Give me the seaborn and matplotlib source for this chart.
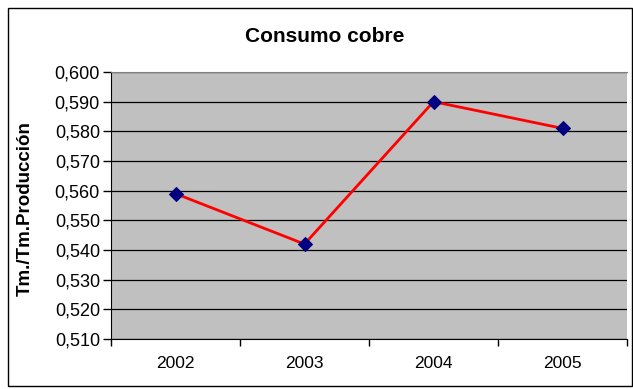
import matplotlib
matplotlib.use("Agg")
import matplotlib.pyplot as plt
import seaborn as sns
import pandas as pd
from matplotlib.ticker import FixedLocator, FuncFormatter
from matplotlib.patches import Rectangle

years = ["2002", "2003", "2004", "2005"]
consumo = [0.559, 0.542, 0.590, 0.581]
y_ticks = [0.51, 0.52, 0.53, 0.54, 0.55, 0.56, 0.57, 0.58, 0.59, 0.60]

df = pd.DataFrame({"year": years, "consumo": consumo})

sns.set_style("white", {"text.color": "black", "xtick.color": "black",
                        "ytick.color": "black", "axes.labelcolor": "black"})
plt.rcParams["font.family"] = ["Liberation Sans", "DejaVu Sans"]

fig = plt.figure(figsize=(6.33, 3.89), dpi=100)
ax = fig.add_axes([111 / 633, 1 - 339 / 389, 516 / 633, 267 / 389])
ax.set_facecolor("#C0C0C0")

sns.lineplot(data=df, x="year", y="consumo", ax=ax, color="#FF0000", linewidth=2,
             marker="D", markersize=7, markerfacecolor="#000080",
             markeredgecolor="#000080", sort=False)

ax.set_xlim(-0.5, 3.5)
ax.set_ylim(0.51, 0.60)
ax.set_yticks(y_ticks)
ax.yaxis.set_major_formatter(FuncFormatter(lambda v, p: f"{v:.3f}".replace(".", ",")))
ax.yaxis.grid(True, color="black", linewidth=0.9)
ax.set_axisbelow(True)

# category ticks between the labels
ax.xaxis.set_minor_locator(FixedLocator([-0.5, 0.5, 1.5, 2.5, 3.5]))
ax.tick_params(axis="x", which="major", length=0, pad=12, labelsize=12.5, labelcolor="black")
ax.tick_params(axis="x", which="minor", length=5, width=1, color="black", direction="out", bottom=True)
ax.tick_params(axis="y", length=6, width=1, color="black", direction="out", left=True,
               labelsize=13, pad=2, labelcolor="black")

ax.spines["right"].set_visible(False)
ax.spines["top"].set_color("#808080")
ax.spines["left"].set_color("black")
ax.spines["bottom"].set_color("black")

ax.set_xlabel("")
ax.set_ylabel("Tm./Tm.Producción", fontsize=13.5, fontweight="bold", color="black")
ax.yaxis.set_label_coords(-0.150, 0.49)
fig.text(325 / 633, 1 - 37 / 389, "Consumo cobre", ha="center", va="center",
         fontsize=15, fontweight="bold", color="black")

fig.patches.append(Rectangle((8 / 633, 1 - 386 / 389), 624 / 633, 378 / 389,
                             transform=fig.transFigure, fill=False,
                             edgecolor="black", linewidth=1))

fig.savefig("out.png", dpi=100)
